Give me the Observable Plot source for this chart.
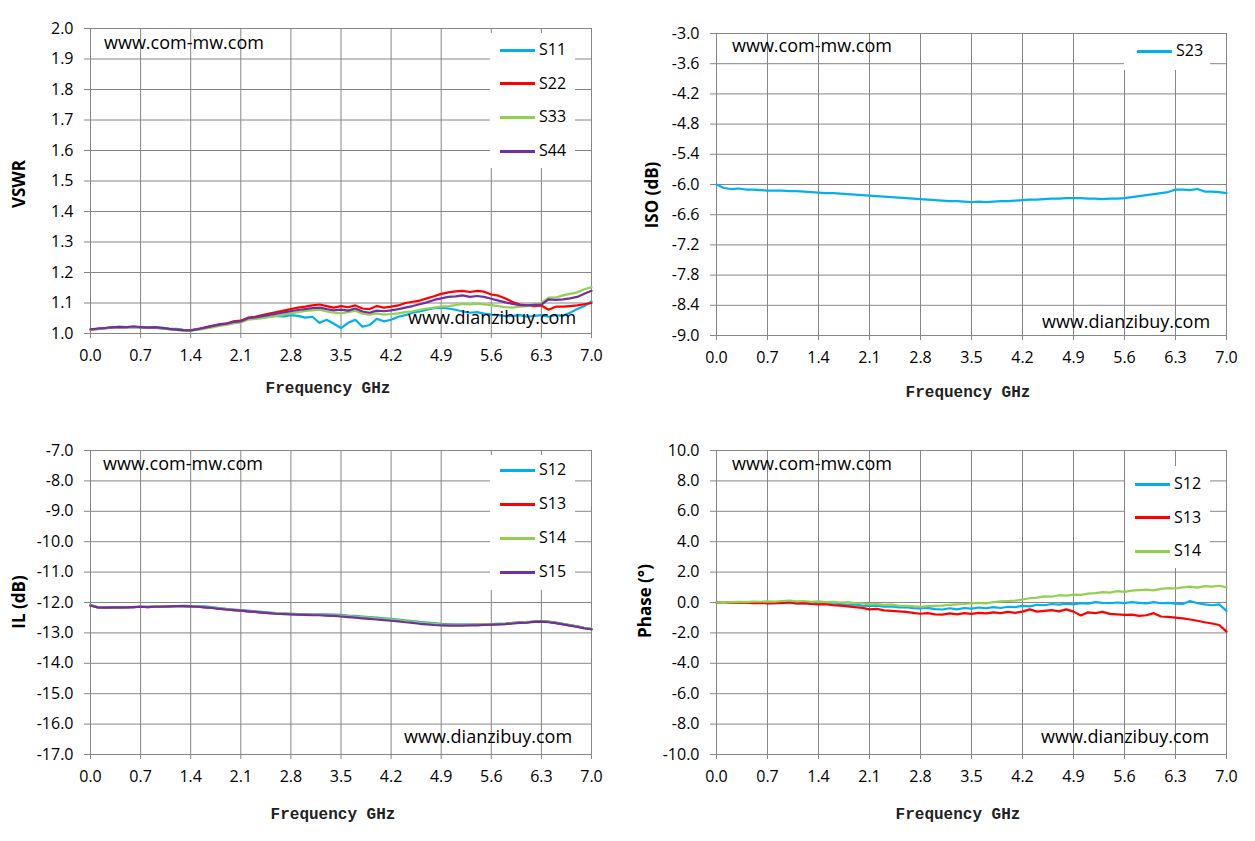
<!DOCTYPE html>
<html>
<head>
<meta charset="utf-8">
<script src="https://cdn.jsdelivr.net/npm/d3@7"></script>
<script src="https://cdn.jsdelivr.net/npm/@observablehq/plot@0.6"></script>
<style>
  html, body { margin: 0; padding: 0; background: #fff; }
  #root { position: relative; width: 1255px; height: 841px; overflow: hidden; background: #fff; }
  .panel { position: absolute; }
  .panel svg { display: block; }
  .wm { position: absolute; font-family: "Open Sans", sans-serif; font-size: 18px; line-height: 22px; color: #000; white-space: nowrap; }
  .xt { position: absolute; font-family: "Liberation Mono", monospace; font-weight: bold; font-size: 16px; line-height: 20px; color: #222; white-space: nowrap; transform: translate(-50%, -50%); }
  .yt { position: absolute; font-family: "Open Sans", sans-serif; font-weight: bold; font-size: 17px; line-height: 20px; color: #000; white-space: nowrap; transform: translate(-50%, -50%) rotate(-90deg); }
  .leg { position: absolute; background: #fff; }
  .leg .item { position: absolute; height: 20px; }
  .leg .sw { position: absolute; height: 3px; }
  .leg .lb { position: absolute; font-family: "Open Sans", sans-serif; font-size: 16px; line-height: 20px; color: #000; }
</style>
</head>
<body>
<div id="root"></div>
<script>
// ---------------- data ----------------
const freq = [0.0,0.1,0.2,0.3,0.4,0.5,0.6,0.7,0.8,0.9,
  1.0,1.1,1.2,1.3,1.4,1.5,1.6,1.7,1.8,1.9,
  2.0,2.1,2.2,2.3,2.4,2.5,2.6,2.7,2.8,2.9,
  3.0,3.1,3.2,3.3,3.4,3.5,3.6,3.7,3.8,3.9,
  4.0,4.1,4.2,4.3,4.4,4.5,4.6,4.7,4.8,4.9,
  5.0,5.1,5.2,5.3,5.4,5.5,5.6,5.7,5.8,5.9,
  6.0,6.1,6.2,6.3,6.4,6.5,6.6,6.7,6.8,6.9,
  7.0];

const xTicks = [0.0,0.7,1.4,2.1,2.8,3.5,4.2,4.9,5.6,6.3,7.0];
const vswrTicks = [1.0,1.1,1.2,1.3,1.4,1.5,1.6,1.7,1.8,1.9,2.0];
const isoTicks = [-9.0,-8.4,-7.8,-7.2,-6.6,-6.0,-5.4,-4.8,-4.2,-3.6,-3.0];
const ilTicks = [-17,-16,-15,-14,-13,-12,-11,-10,-9,-8,-7];
const phaseTicks = [-10,-8,-6,-4,-2,0,2,4,6,8,10];

const vswrS11 = [1.014,1.015,1.018,1.020,1.022,1.021,1.022,1.021,1.020,1.021,
  1.019,1.016,1.015,1.012,1.011,1.015,1.018,1.022,1.028,1.031,
  1.036,1.040,1.048,1.050,1.052,1.055,1.058,1.056,1.060,1.058,
  1.052,1.055,1.035,1.045,1.032,1.018,1.035,1.045,1.022,1.028,
  1.048,1.040,1.045,1.055,1.060,1.068,1.072,1.078,1.083,1.085,
  1.082,1.078,1.072,1.068,1.070,1.065,1.062,1.060,1.057,1.058,
  1.060,1.055,1.058,1.060,1.055,1.060,1.058,1.068,1.080,1.090,
  1.105];
const vswrS22 = [1.012,1.015,1.017,1.020,1.021,1.020,1.022,1.020,1.018,1.020,
  1.017,1.014,1.012,1.010,1.010,1.014,1.020,1.025,1.030,1.033,
  1.040,1.042,1.052,1.055,1.060,1.065,1.070,1.075,1.080,1.085,
  1.088,1.092,1.095,1.090,1.085,1.090,1.086,1.092,1.082,1.080,
  1.090,1.085,1.088,1.092,1.100,1.104,1.108,1.115,1.122,1.130,
  1.135,1.138,1.140,1.136,1.140,1.137,1.128,1.124,1.115,1.103,
  1.095,1.092,1.090,1.092,1.078,1.088,1.088,1.090,1.092,1.096,
  1.100];
const vswrS33 = [1.013,1.014,1.017,1.019,1.020,1.020,1.021,1.020,1.018,1.018,
  1.016,1.014,1.012,1.010,1.009,1.012,1.016,1.020,1.025,1.028,
  1.033,1.036,1.045,1.048,1.050,1.054,1.058,1.062,1.066,1.070,
  1.074,1.076,1.078,1.072,1.068,1.066,1.070,1.075,1.065,1.062,
  1.066,1.062,1.064,1.066,1.070,1.073,1.078,1.082,1.085,1.088,
  1.090,1.093,1.097,1.095,1.098,1.095,1.093,1.090,1.086,1.085,
  1.088,1.090,1.094,1.100,1.118,1.118,1.125,1.130,1.135,1.145,
  1.152];
const vswrS44 = [1.014,1.016,1.018,1.020,1.022,1.021,1.023,1.021,1.019,1.020,
  1.018,1.015,1.013,1.011,1.010,1.014,1.019,1.024,1.029,1.032,
  1.038,1.040,1.050,1.053,1.057,1.061,1.065,1.069,1.073,1.077,
  1.080,1.083,1.085,1.080,1.076,1.078,1.075,1.082,1.072,1.068,
  1.075,1.073,1.076,1.080,1.085,1.090,1.096,1.102,1.110,1.115,
  1.120,1.122,1.125,1.120,1.123,1.120,1.114,1.108,1.102,1.097,
  1.093,1.092,1.094,1.095,1.112,1.110,1.112,1.115,1.120,1.130,
  1.140];

const isoS23 = [-6.00,-6.07,-6.09,-6.08,-6.10,-6.10,-6.11,-6.12,-6.12,-6.12,
  -6.13,-6.13,-6.14,-6.15,-6.16,-6.17,-6.17,-6.18,-6.19,-6.20,
  -6.21,-6.22,-6.23,-6.24,-6.25,-6.26,-6.27,-6.28,-6.29,-6.30,
  -6.31,-6.32,-6.33,-6.33,-6.34,-6.35,-6.34,-6.35,-6.34,-6.33,
  -6.33,-6.32,-6.31,-6.30,-6.30,-6.29,-6.28,-6.28,-6.27,-6.27,
  -6.27,-6.28,-6.28,-6.29,-6.28,-6.28,-6.27,-6.25,-6.23,-6.21,
  -6.19,-6.17,-6.15,-6.10,-6.10,-6.11,-6.09,-6.14,-6.14,-6.15,
  -6.17];

const ilS12 = [-12.08,-12.15,-12.16,-12.16,-12.15,-12.16,-12.15,-12.14,-12.14,-12.13,
  -12.13,-12.12,-12.12,-12.11,-12.12,-12.12,-12.13,-12.15,-12.18,-12.21,
  -12.23,-12.25,-12.27,-12.29,-12.31,-12.33,-12.35,-12.36,-12.37,-12.38,
  -12.38,-12.39,-12.39,-12.39,-12.40,-12.41,-12.43,-12.44,-12.46,-12.48,
  -12.50,-12.52,-12.54,-12.56,-12.59,-12.61,-12.64,-12.66,-12.68,-12.70,
  -12.71,-12.72,-12.72,-12.72,-12.72,-12.71,-12.71,-12.70,-12.69,-12.67,
  -12.66,-12.65,-12.63,-12.62,-12.63,-12.66,-12.70,-12.74,-12.78,-12.83,
  -12.87];
const ilS13 = [-12.10,-12.16,-12.17,-12.16,-12.16,-12.15,-12.15,-12.14,-12.15,-12.14,
  -12.13,-12.13,-12.12,-12.12,-12.13,-12.14,-12.16,-12.18,-12.20,-12.23,
  -12.25,-12.27,-12.29,-12.31,-12.33,-12.35,-12.36,-12.37,-12.38,-12.39,
  -12.40,-12.41,-12.41,-12.42,-12.43,-12.44,-12.46,-12.48,-12.50,-12.52,
  -12.54,-12.56,-12.58,-12.60,-12.62,-12.65,-12.67,-12.69,-12.71,-12.73,
  -12.74,-12.74,-12.74,-12.74,-12.73,-12.73,-12.72,-12.71,-12.70,-12.68,
  -12.66,-12.65,-12.63,-12.62,-12.64,-12.67,-12.71,-12.75,-12.79,-12.84,
  -12.88];
const ilS14 = [-12.09,-12.15,-12.16,-12.15,-12.15,-12.15,-12.14,-12.14,-12.14,-12.13,
  -12.13,-12.12,-12.12,-12.11,-12.12,-12.13,-12.15,-12.17,-12.19,-12.22,
  -12.24,-12.26,-12.28,-12.30,-12.32,-12.34,-12.35,-12.36,-12.37,-12.38,
  -12.39,-12.40,-12.40,-12.41,-12.42,-12.43,-12.45,-12.46,-12.48,-12.50,
  -12.52,-12.54,-12.56,-12.58,-12.61,-12.63,-12.66,-12.68,-12.70,-12.72,
  -12.73,-12.73,-12.73,-12.73,-12.72,-12.72,-12.71,-12.70,-12.69,-12.67,
  -12.66,-12.64,-12.63,-12.62,-12.64,-12.67,-12.70,-12.74,-12.78,-12.83,
  -12.87];
const ilS15 = [-12.10,-12.16,-12.17,-12.16,-12.16,-12.16,-12.15,-12.14,-12.15,-12.14,
  -12.14,-12.13,-12.12,-12.12,-12.13,-12.14,-12.16,-12.18,-12.21,-12.23,
  -12.25,-12.27,-12.29,-12.31,-12.33,-12.35,-12.37,-12.38,-12.39,-12.40,
  -12.41,-12.42,-12.42,-12.43,-12.44,-12.46,-12.48,-12.50,-12.52,-12.54,
  -12.56,-12.58,-12.60,-12.62,-12.65,-12.67,-12.70,-12.72,-12.74,-12.75,
  -12.76,-12.76,-12.76,-12.75,-12.75,-12.74,-12.73,-12.72,-12.71,-12.69,
  -12.67,-12.66,-12.64,-12.63,-12.65,-12.68,-12.72,-12.76,-12.80,-12.85,
  -12.88];

const phS12 = [0.00,-0.02,0.00,-0.03,0.01,-0.02,0.00,-0.04,-0.02,-0.05,
  -0.03,-0.06,-0.05,-0.08,-0.09,-0.07,-0.12,-0.10,-0.15,-0.13,
  -0.20,-0.22,-0.20,-0.27,-0.25,-0.32,-0.30,-0.37,-0.38,-0.35,
  -0.44,-0.46,-0.38,-0.45,-0.36,-0.40,-0.33,-0.38,-0.30,-0.36,
  -0.28,-0.30,-0.22,-0.25,-0.15,-0.18,-0.10,-0.14,-0.08,-0.12,
  -0.04,-0.07,0.02,-0.03,-0.05,0.00,-0.04,0.03,-0.02,-0.06,
  0.02,-0.05,-0.02,-0.08,-0.10,0.10,-0.05,-0.12,-0.18,-0.12,
  -0.55];
const phS13 = [0.00,-0.02,0.01,-0.03,-0.01,-0.04,-0.02,-0.06,-0.04,-0.02,
  0.02,-0.06,-0.04,-0.10,-0.13,-0.11,-0.18,-0.20,-0.25,-0.30,
  -0.35,-0.45,-0.42,-0.52,-0.55,-0.58,-0.62,-0.68,-0.74,-0.70,
  -0.78,-0.80,-0.72,-0.78,-0.70,-0.75,-0.68,-0.72,-0.65,-0.70,
  -0.62,-0.68,-0.60,-0.45,-0.60,-0.55,-0.50,-0.58,-0.45,-0.60,
  -0.85,-0.65,-0.70,-0.62,-0.75,-0.78,-0.82,-0.80,-0.88,-0.84,
  -0.70,-0.92,-0.95,-1.00,-1.05,-1.12,-1.20,-1.30,-1.38,-1.48,
  -1.92];
const phS14 = [0.00,-0.02,0.02,0.04,0.02,0.06,0.05,0.08,0.06,0.10,
  0.13,0.08,0.10,0.05,0.07,0.02,0.04,0.00,0.02,-0.04,
  -0.05,-0.12,-0.10,-0.16,-0.14,-0.20,-0.22,-0.25,-0.28,-0.24,
  -0.22,-0.20,-0.15,-0.12,-0.10,-0.05,-0.02,-0.06,0.02,0.08,
  0.10,0.12,0.20,0.28,0.32,0.40,0.38,0.48,0.45,0.52,
  0.50,0.58,0.62,0.68,0.65,0.75,0.70,0.78,0.82,0.85,
  0.80,0.90,0.95,0.92,1.00,1.05,0.98,1.08,1.05,1.10,
  1.00];

const BLUE = "#00B0F0", RED = "#FF0000", GREEN = "#92D050", PURPLE = "#7030A0";
const GRID = "#868686";

// ---------------- drawing ----------------
const root = document.getElementById("root");
const fmt1 = d => d.toFixed(1);

function makePanel(cfg) {
  const marks = [
    Plot.gridX(xTicks, {stroke: GRID, strokeOpacity: 1, strokeWidth: 1}),
    Plot.gridY(cfg.yTicks, {stroke: GRID, strokeOpacity: 1, strokeWidth: 1}),
    Plot.axisX(xTicks, {tickSize: 5, tickPadding: 11, stroke: GRID, fill: "#000", label: null, tickFormat: fmt1}),
    Plot.axisY(cfg.yTicks, {tickSize: 6, tickPadding: 11, stroke: GRID, fill: "#000", label: null, tickFormat: fmt1})
  ];
  for (const s of cfg.series) {
    const data = freq.map((f, i) => ({f, v: s.values[i]}));
    marks.push(Plot.line(data, {x: "f", y: "v", stroke: s.color, strokeWidth: 2.2}));
  }
  const svg = Plot.plot({
    width: cfg.width, height: cfg.height,
    marginLeft: cfg.ml, marginRight: cfg.mr, marginTop: cfg.mt, marginBottom: cfg.mb,
    x: {domain: [0, 7]},
    y: {domain: cfg.yDomain},
    style: {fontFamily: "'Open Sans', sans-serif", fontSize: "16px", color: "#000", background: "transparent", overflow: "visible"},
    marks
  });
  const div = document.createElement("div");
  div.className = "panel";
  div.style.left = cfg.left + "px";
  div.style.top = cfg.top + "px";
  div.appendChild(svg);
  root.appendChild(div);

  // legend
  const leg = document.createElement("div");
  leg.className = "leg";
  Object.assign(leg.style, {left: cfg.legend.x + "px", top: cfg.legend.y + "px", width: cfg.legend.w + "px", height: cfg.legend.h + "px"});
  root.appendChild(leg);
  cfg.series.forEach((s, i) => {
    const cy = cfg.legend.firstY + i * cfg.legend.step - cfg.legend.y;
    const sw = document.createElement("div");
    sw.className = "sw";
    Object.assign(sw.style, {left: cfg.legend.lineX - cfg.legend.x + "px", top: (cy - 1.5) + "px", width: "35px", background: s.color});
    leg.appendChild(sw);
    const lb = document.createElement("div");
    lb.className = "lb";
    lb.textContent = s.name;
    Object.assign(lb.style, {left: cfg.legend.lineX - cfg.legend.x + 39 + "px", top: (cy - 11) + "px"});
    leg.appendChild(lb);
  });

  // watermarks
  for (const w of cfg.marks) {
    const d = document.createElement("div");
    d.className = "wm";
    d.textContent = w.text;
    d.style.left = w.x + "px";
    d.style.top = (w.y - 12) + "px";
    root.appendChild(d);
  }
  // axis titles
  const xt = document.createElement("div");
  xt.className = "xt";
  xt.textContent = "Frequency GHz";
  xt.style.left = cfg.xTitle[0] + "px";
  xt.style.top = cfg.xTitle[1] + "px";
  root.appendChild(xt);
  const yt = document.createElement("div");
  yt.className = "yt";
  yt.textContent = cfg.yLabel;
  yt.style.left = cfg.yTitle[0] + "px";
  yt.style.top = cfg.yTitle[1] + "px";
  root.appendChild(yt);
}

makePanel({
  left: 0, top: 0, width: 620, height: 410, ml: 90, mr: 29, mt: 28, mb: 77,
  yDomain: [1.0, 2.0], yTicks: vswrTicks, yLabel: "VSWR",
  series: [
    {name: "S11", values: vswrS11, color: BLUE},
    {name: "S22", values: vswrS22, color: RED},
    {name: "S33", values: vswrS33, color: GREEN},
    {name: "S44", values: vswrS44, color: PURPLE}
  ],
  legend: {x: 490, y: 33, w: 85, h: 135, firstY: 50, step: 33.7, lineX: 500},
  marks: [{text: "www.com-mw.com", x: 104, y: 43}, {text: "www.dianzibuy.com", x: 408, y: 318}],
  xTitle: [328, 389], yTitle: [19, 184]
});

makePanel({
  left: 627, top: 0, width: 628, height: 410, ml: 89, mr: 29, mt: 33, mb: 75,
  yDomain: [-9.0, -3.0], yTicks: isoTicks, yLabel: "ISO (dB)",
  series: [
    {name: "S23", values: isoS23, color: BLUE}
  ],
  legend: {x: 1124, y: 34, w: 86, h: 36, firstY: 51, step: 34, lineX: 1137},
  marks: [{text: "www.com-mw.com", x: 732, y: 46}, {text: "www.dianzibuy.com", x: 1042, y: 322}],
  xTitle: [968, 393], yTitle: [652, 195]
});

makePanel({
  left: 0, top: 420, width: 620, height: 421, ml: 90, mr: 29, mt: 30, mb: 87,
  yDomain: [-17, -7], yTicks: ilTicks, yLabel: "IL (dB)",
  series: [
    {name: "S12", values: ilS12, color: BLUE},
    {name: "S13", values: ilS13, color: RED},
    {name: "S14", values: ilS14, color: GREEN},
    {name: "S15", values: ilS15, color: PURPLE}
  ],
  legend: {x: 490, y: 455, w: 85, h: 135, firstY: 470, step: 34, lineX: 500},
  marks: [{text: "www.com-mw.com", x: 103, y: 464}, {text: "www.dianzibuy.com", x: 404, y: 737}],
  xTitle: [333, 815], yTitle: [19, 602]
});

makePanel({
  left: 627, top: 420, width: 628, height: 421, ml: 89, mr: 29, mt: 30, mb: 87,
  yDomain: [-10, 10], yTicks: phaseTicks, yLabel: "Phase (°)",
  series: [
    {name: "S12", values: phS12, color: BLUE},
    {name: "S13", values: phS13, color: RED},
    {name: "S14", values: phS14, color: GREEN}
  ],
  legend: {x: 1125, y: 466, w: 85, h: 102, firstY: 484, step: 33.5, lineX: 1135},
  marks: [{text: "www.com-mw.com", x: 732, y: 464}, {text: "www.dianzibuy.com", x: 1041, y: 737}],
  xTitle: [958, 815], yTitle: [645, 601]
});
</script>
</body>
</html>
